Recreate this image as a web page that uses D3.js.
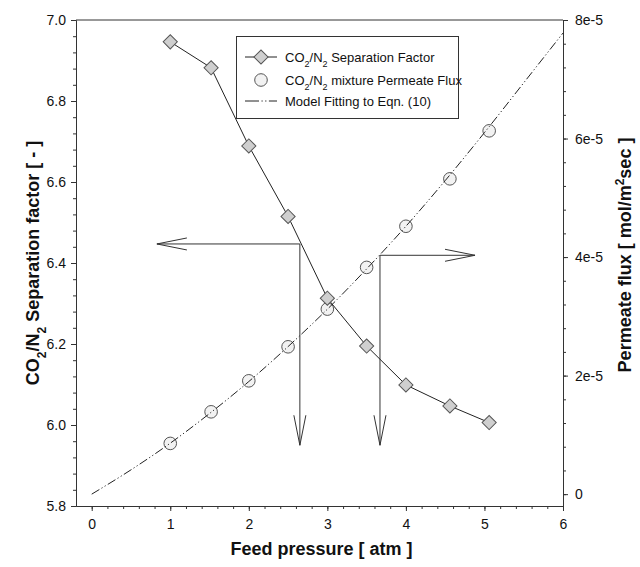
<!DOCTYPE html>
<html>
<head>
<meta charset="utf-8">
<script src="https://cdn.jsdelivr.net/npm/d3@7"></script>
<style>
body { margin: 0; background: #fff; }
text { font-family: Arial, "Liberation Sans", sans-serif; fill: #111; }
</style>
</head>
<body>
<svg class="chart" width="640" height="567"></svg>
<script>
// values
var pressure = [1.0, 1.52, 2.0, 2.5, 3.0, 3.5, 4.0, 4.56, 5.06];
var sepFactor = [6.946, 6.882, 6.689, 6.515, 6.313, 6.195, 6.099, 6.047, 6.006];
var flux = [0.856e-5, 1.389e-5, 1.912e-5, 2.486e-5, 3.122e-5, 3.826e-5, 4.52e-5, 5.32e-5, 6.13e-5];
var modelPressure = [0, 0.5, 1.0, 1.5, 2.0, 2.5, 3.0, 3.5, 4.0, 4.5, 5.0, 5.5, 6.0];
var modelFlux = [0, 0.41e-5, 0.86e-5, 1.36e-5, 1.9e-5, 2.49e-5, 3.12e-5, 3.8e-5, 4.52e-5, 5.29e-5, 6.1e-5, 6.94e-5, 7.78e-5];
var xTicks = [0, 1, 2, 3, 4, 5, 6];
var leftTicks = [5.8, 6.0, 6.2, 6.4, 6.6, 6.8, 7.0];
var rightTicks = [0, 2e-5, 4e-5, 6e-5, 8e-5];
var rightTickLabels = ["0", "2e-5", "4e-5", "6e-5", "8e-5"];
// annotation arrows, in left/right axis units
var leftArrow = {x: 2.65, y: 6.447, tipX: 0.83, tipY: 5.95};
var rightArrow = {x: 3.67, y: 4.03e-5, tipX: 4.88, tipY: 5.95};

var svg = d3.select(".chart");
var pLeft = 76, pRight = 563, pTop = 20, pBottom = 506;

var x = d3.scaleLinear().domain([-0.2, 6]).range([pLeft, pRight]);
var yL = d3.scaleLinear().domain([5.8, 7.0]).range([pBottom, pTop]);
var yR = d3.scaleLinear().domain([-0.2e-5, 8e-5]).range([pBottom, pTop]);

var ink = "#333";

function styleAxis(g) {
    g.selectAll("path.domain").attr("stroke", ink);
    g.selectAll(".tick line").attr("stroke", ink);
    g.selectAll(".tick text").style("font-size", "14px").style("font-family", "Arial").attr("fill", "#111");
}

// minor ticks first
svg.append("g").attr("transform", "translate(0," + pBottom + ")")
    .call(d3.axisBottom(x).tickValues(d3.range(0, 6.01, 0.2)).tickSize(3).tickSizeOuter(0).tickFormat(""))
    .call(styleAxis);
svg.append("g").attr("transform", "translate(" + pLeft + ",0)")
    .call(d3.axisLeft(yL).tickValues(d3.range(5.8, 7.001, 0.04)).tickSize(3).tickSizeOuter(0).tickFormat(""))
    .call(styleAxis);
svg.append("g").attr("transform", "translate(" + pRight + ",0)")
    .call(d3.axisRight(yR).tickValues(d3.range(0, 8.01e-5, 0.4e-5)).tickSize(3).tickSizeOuter(0).tickFormat(""))
    .call(styleAxis);

// major ticks
svg.append("g").attr("transform", "translate(0," + pBottom + ")")
    .call(d3.axisBottom(x).tickValues(xTicks).tickSize(5).tickSizeOuter(0).tickPadding(8).tickFormat(d3.format("d")))
    .call(styleAxis);
svg.append("g").attr("transform", "translate(" + pLeft + ",0)")
    .call(d3.axisLeft(yL).tickValues(leftTicks).tickSize(5).tickSizeOuter(0).tickPadding(5).tickFormat(d3.format(".1f")))
    .call(styleAxis);
svg.append("g").attr("transform", "translate(" + pRight + ",0)")
    .call(d3.axisRight(yR).tickValues(rightTicks).tickSize(5).tickSizeOuter(0).tickPadding(7)
        .tickFormat(function(d, i) { return rightTickLabels[i]; }))
    .call(styleAxis);

// top frame
svg.append("line").attr("x1", pLeft).attr("x2", pRight).attr("y1", pTop).attr("y2", pTop).attr("stroke", ink);

// arrows
function arrowHead(x0, y0, dx, dy) {
    // open V head pointing along (dx, dy)
    var len = 30, half = 6;
    var px = -dy, py = dx;
    return "M" + (x0 - dx * len + px * half) + "," + (y0 - dy * len + py * half) +
           "L" + x0 + "," + y0 +
           "L" + (x0 - dx * len - px * half) + "," + (y0 - dy * len - py * half);
}
var arrows = svg.append("g").attr("fill", "none").attr("stroke", ink).attr("stroke-width", 1);
arrows.append("line").attr("x1", x(leftArrow.x)).attr("x2", x(leftArrow.tipX)).attr("y1", yL(leftArrow.y)).attr("y2", yL(leftArrow.y));
arrows.append("path").attr("d", arrowHead(x(leftArrow.tipX), yL(leftArrow.y), -1, 0));
arrows.append("line").attr("x1", x(leftArrow.x)).attr("x2", x(leftArrow.x)).attr("y1", yL(leftArrow.y)).attr("y2", yL(leftArrow.tipY));
arrows.append("path").attr("d", arrowHead(x(leftArrow.x), yL(leftArrow.tipY), 0, 1));

arrows.append("line").attr("x1", x(rightArrow.x)).attr("x2", x(rightArrow.tipX)).attr("y1", yR(rightArrow.y)).attr("y2", yR(rightArrow.y));
arrows.append("path").attr("d", arrowHead(x(rightArrow.tipX), yR(rightArrow.y), 1, 0));
arrows.append("line").attr("x1", x(rightArrow.x)).attr("x2", x(rightArrow.x)).attr("y1", yR(rightArrow.y)).attr("y2", yL(rightArrow.tipY));
arrows.append("path").attr("d", arrowHead(x(rightArrow.x), yL(rightArrow.tipY), 0, 1));

// flux circles
svg.selectAll(".flux").data(flux)
    .enter().append("circle")
    .attr("class", "flux")
    .attr("cx", function(d, i) { return x(pressure[i]); })
    .attr("cy", function(d) { return yR(d); })
    .attr("r", 6.3)
    .attr("fill", "#f2f2f2")
    .attr("stroke", "#555");

// model fit line
var modelLine = d3.line()
    .x(function(d, i) { return x(modelPressure[i]); })
    .y(function(d) { return yR(d); })
    .curve(d3.curveMonotoneX);
svg.append("path").datum(modelFlux)
    .attr("d", modelLine)
    .attr("fill", "none")
    .attr("stroke", "#222")
    .attr("stroke-dasharray", "9,2.5,1.2,2.5,1.2,2.5");

// separation factor
var sepLine = d3.line()
    .x(function(d, i) { return x(pressure[i]); })
    .y(function(d) { return yL(d); });
svg.append("path").datum(sepFactor)
    .attr("d", sepLine)
    .attr("fill", "none")
    .attr("stroke", "#222");

var diamond = d3.symbol().type(d3.symbolSquare).size(100);
svg.selectAll(".sep").data(sepFactor)
    .enter().append("path")
    .attr("class", "sep")
    .attr("d", diamond)
    .attr("transform", function(d, i) { return "translate(" + x(pressure[i]) + "," + yL(d) + ") rotate(45)"; })
    .attr("fill", "#cfcfcf")
    .attr("stroke", "#555");

// legend
var lg = svg.append("g");
lg.append("rect").attr("x", 236.5).attr("y", 36.5).attr("width", 222).attr("height", 82)
    .attr("fill", "#fff").attr("stroke", ink);

function coN(t, rest) {
    t.append("tspan").text("CO");
    t.append("tspan").text("2").attr("baseline-shift", "sub").style("font-size", "9px");
    t.append("tspan").text("/N");
    t.append("tspan").text("2").attr("baseline-shift", "sub").style("font-size", "9px");
    t.append("tspan").text(rest);
}

lg.append("line").attr("x1", 245).attr("x2", 277).attr("y1", 57).attr("y2", 57).attr("stroke", "#222");
lg.append("path").attr("d", diamond).attr("transform", "translate(261,57) rotate(45)")
    .attr("fill", "#cfcfcf").attr("stroke", "#555");
var t1 = lg.append("text").attr("x", 285).attr("y", 61.5).style("font-size", "13px");
coN(t1, " Separation Factor");

lg.append("circle").attr("cx", 261).attr("cy", 80).attr("r", 6.3).attr("fill", "#f2f2f2").attr("stroke", "#555");
var t2 = lg.append("text").attr("x", 285).attr("y", 84.5).style("font-size", "13px");
coN(t2, " mixture Permeate Flux");

lg.append("line").attr("x1", 245).attr("x2", 277).attr("y1", 101).attr("y2", 101)
    .attr("stroke", "#222").attr("stroke-dasharray", "14,2.5,1.2,2.5,1.2,2.5");
lg.append("text").attr("x", 285).attr("y", 105.5).style("font-size", "13px").text("Model Fitting to Eqn. (10)");

// axis titles
svg.append("text").attr("x", (pLeft + pRight) / 2 + 2).attr("y", 555)
    .attr("text-anchor", "middle")
    .style("font-size", "18px").style("font-weight", "bold")
    .text("Feed pressure [ atm ]");

var ly = svg.append("text")
    .attr("transform", "translate(39," + ((pTop + pBottom) / 2) + ") rotate(-90)")
    .attr("text-anchor", "middle")
    .style("font-size", "18px").style("font-weight", "bold");
ly.append("tspan").text("CO");
ly.append("tspan").text("2").attr("baseline-shift", "sub").style("font-size", "12px");
ly.append("tspan").text("/N");
ly.append("tspan").text("2").attr("baseline-shift", "sub").style("font-size", "12px");
ly.append("tspan").text(" Separation factor [ - ]");

var ry = svg.append("text")
    .attr("transform", "translate(631," + ((pTop + pBottom) / 2 - 8) + ") rotate(-90)")
    .attr("text-anchor", "middle")
    .style("font-size", "18px").style("font-weight", "bold");
ry.append("tspan").text("Permeate  flux [ mol/m");
ry.append("tspan").text("2").attr("baseline-shift", "super").style("font-size", "12px");
ry.append("tspan").text("sec ]");
</script>
</body>
</html>
